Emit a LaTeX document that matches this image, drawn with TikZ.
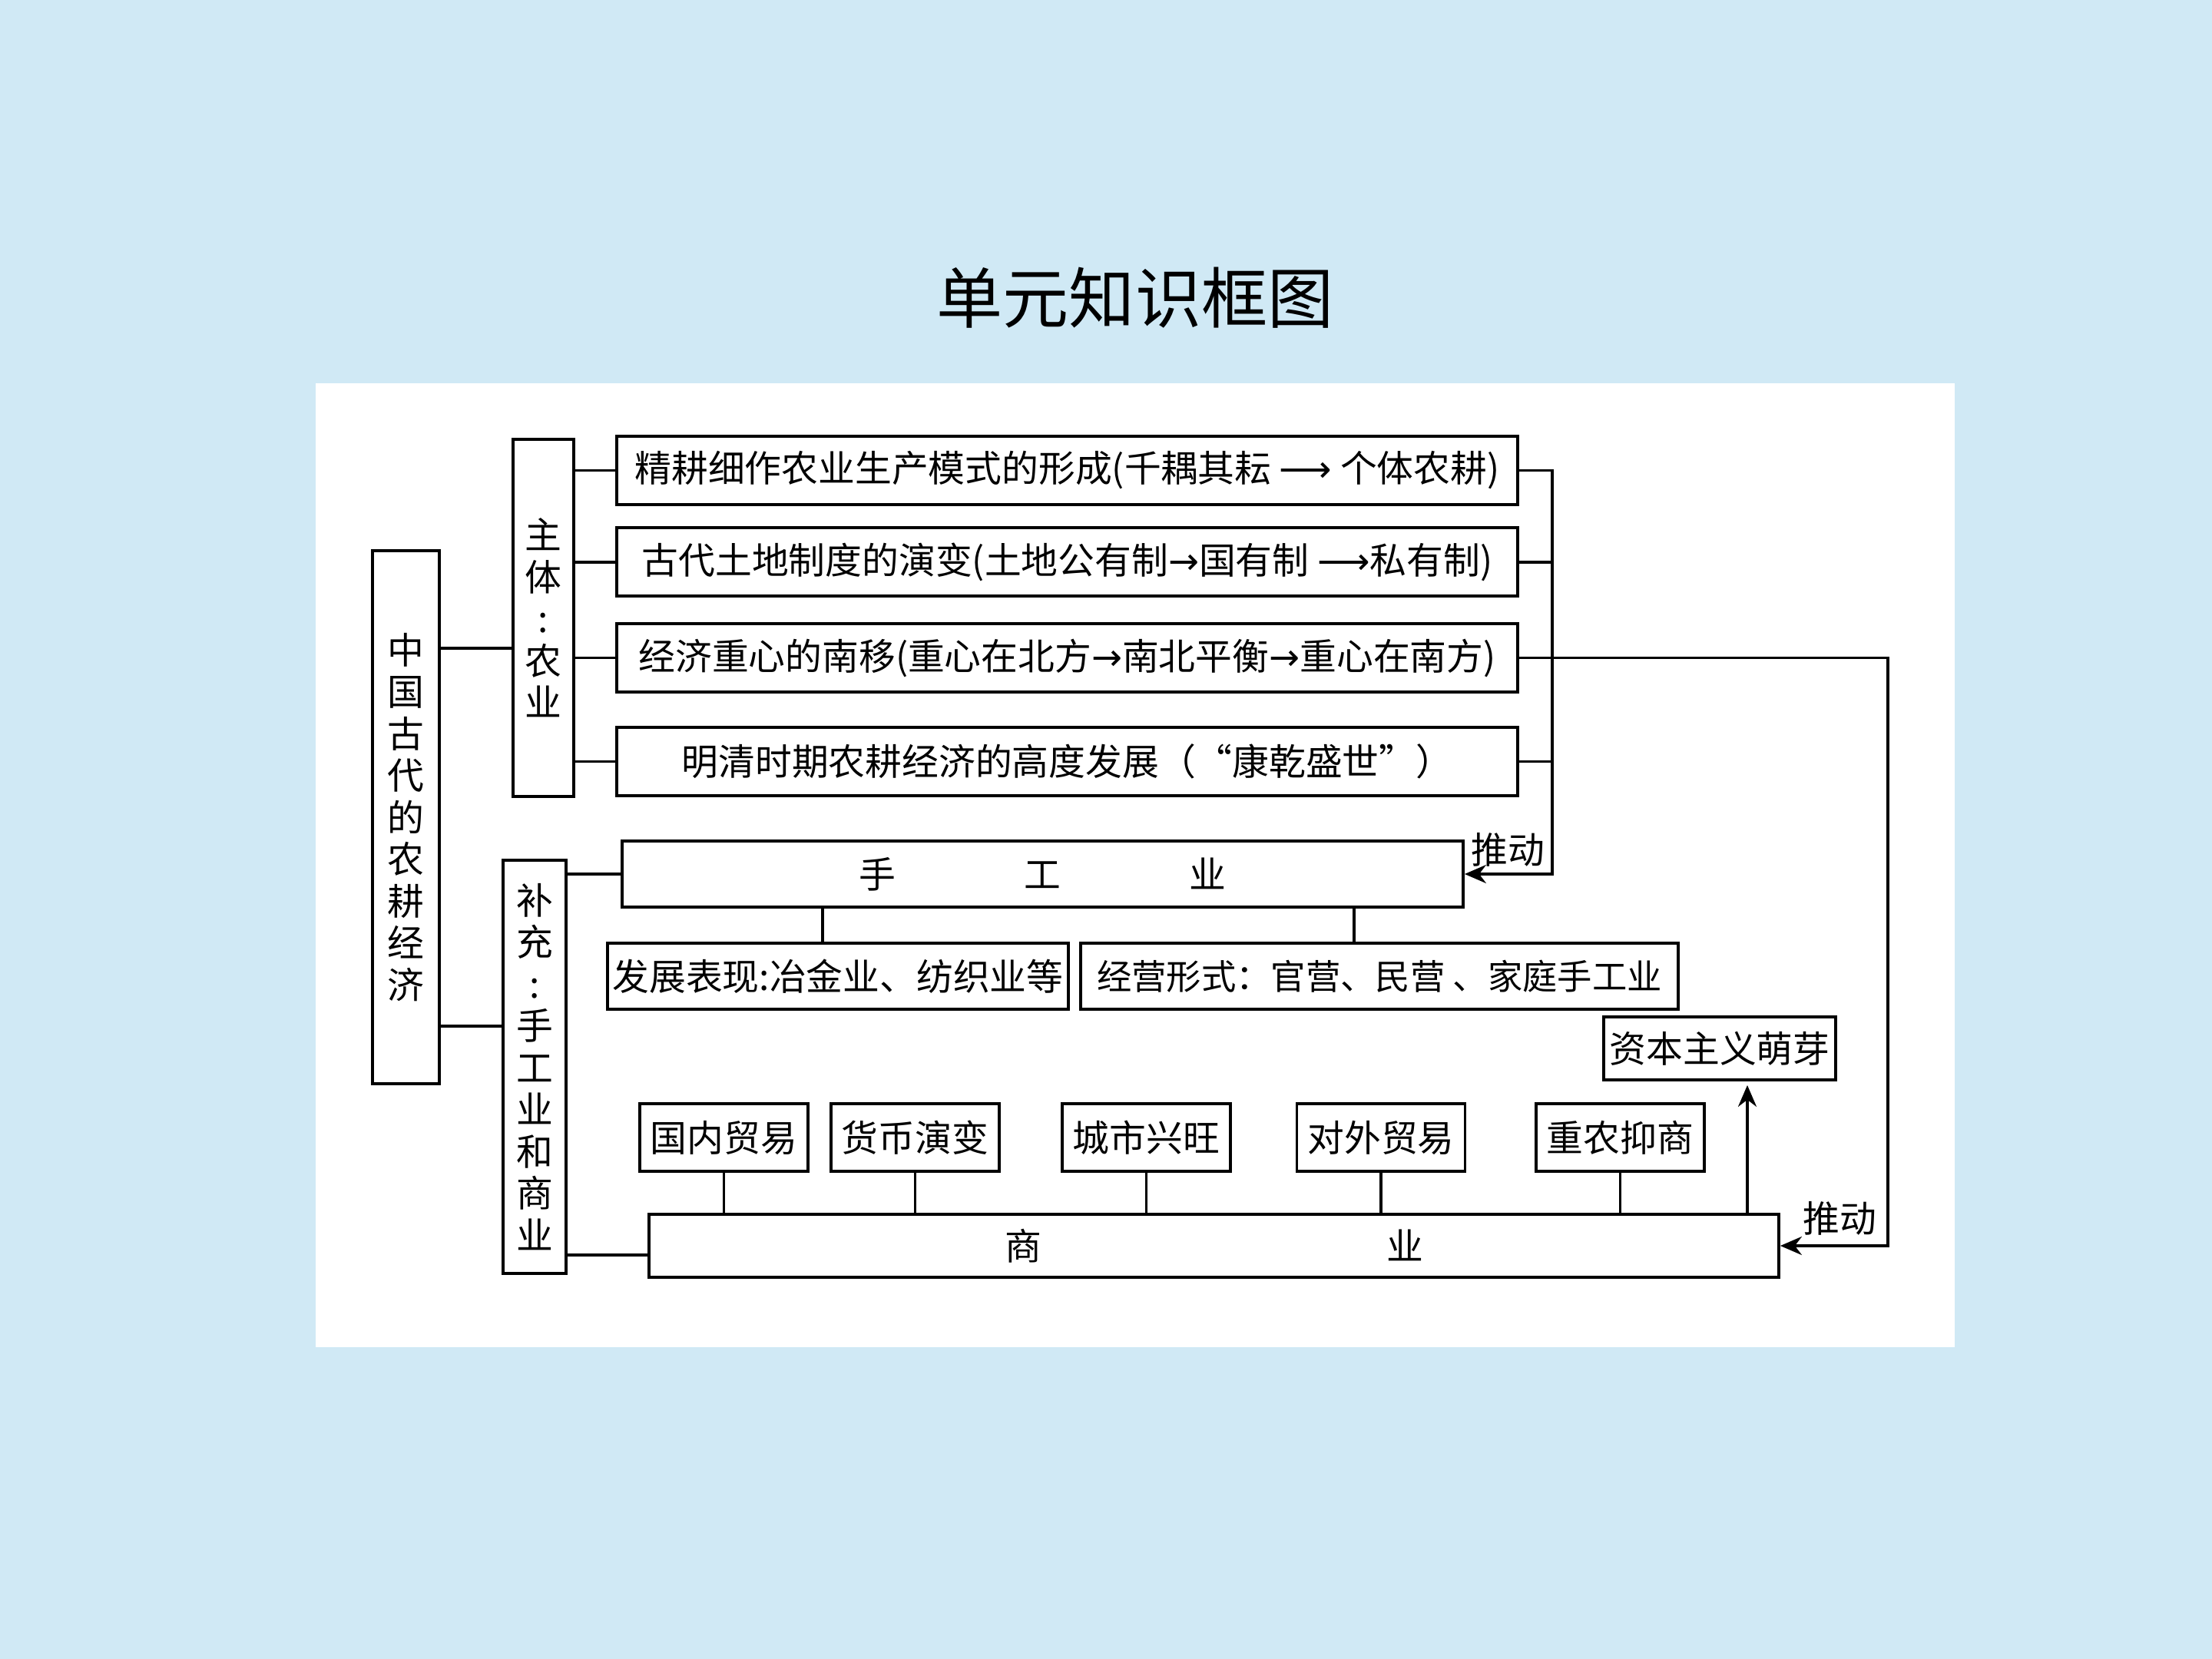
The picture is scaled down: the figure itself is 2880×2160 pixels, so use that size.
\documentclass[tikz,border=0pt]{standalone}
\usepackage{fontspec}
\setmainfont{Noto Sans CJK SC}
\newfontfamily\arrowfont{DejaVu Sans}
\usepackage{tikz}
\usetikzlibrary{arrows.meta, positioning, calc}
\definecolor{slidebg}{RGB}{208,233,245}
\newcommand{\longto}{{\arrowfont ⟶}}
\newcommand{\shortto}{{\arrowfont →}}

\begin{document}
\begin{tikzpicture}[
    x=0.1mm, y=-0.1mm,
    font=\fontsize{13.6pt}{16pt}\selectfont,
    box/.style={rectangle, draw=black, line width=1.1pt, inner sep=0pt, text centered},
    rowbox/.style={box, minimum width=117.3mm, minimum height=8.9mm},
    vbox/.style={box, align=center, font=\fontsize{13.6pt}{5.45mm}\selectfont},
    smallbox/.style={box, minimum width=21.9mm, minimum height=8.8mm},
    link/.style={line width=1pt},
    arrow/.style={line width=1pt, -{Stealth[length=2.8mm, width=2.4mm]}},
]

    % slide background
    \fill [slidebg] (0,0) rectangle (2880,2160);
    \fill [white] (411,499) rectangle (2545,1754);
    \useasboundingbox (0,0) rectangle (2880,2160);

    \node (title) at (1478,388) [font=\fontsize{24.5pt}{28pt}\selectfont] {单元知识框图};

    % left column
    \node (china) at (528.5,1064) [vbox, minimum width=8.7mm, minimum height=69.4mm] {中\\国\\古\\代\\的\\农\\耕\\经\\济};
    \node (agri) at (707.5,804.5) [vbox, minimum width=7.9mm, minimum height=46.5mm] {主\\体\\:\\农\\业};
    \node (supp) at (696,1389) [vbox, minimum width=8.2mm, minimum height=53.8mm] {补\\充\\:\\手\\工\\业\\和\\商\\业};

    % agriculture
    \node (r1) at (1389.5,612.5) [rowbox] {精耕细作农业生产模式的形成(千耦其耘 \longto{} 个体农耕)};
    \node (r2) [rowbox, below=2.65mm of r1] {古代土地制度的演变(土地公有制\shortto{}国有制 \longto{}私有制)};
    \node (r3) [rowbox, below=3.2mm of r2] {经济重心的南移(重心在北方\shortto{}南北平衡\shortto{}重心在南方)};
    \node (r4) [rowbox, below=4.2mm of r3] {明清时期农耕经济的高度发展（“康乾盛世”）};

    % handicraft
    \node (craft) at (1357.5,1138) [box, minimum width=109.5mm, minimum height=8.6mm] {手\hspace{3.5em}工\hspace{3.5em}业};
    \node (dev) at (1091,1271) [box, minimum width=60mm, minimum height=8.6mm] {发展表现:冶金业、纺织业等};
    \node (mgmt) at (1796,1271) [box, minimum width=77.8mm, minimum height=8.6mm, font=\fontsize{12.9pt}{15pt}\selectfont] {经营形式：官营、民营 、家庭手工业};
    \node (capit) at (2239,1365) [box, minimum width=30.2mm, minimum height=8.2mm] {资本主义萌芽};

    % commerce
    \node (dom) at (942.5,1481) [smallbox] {国内贸易};
    \node (money) at (1191.5,1481) [smallbox] {货币演变};
    \node (city) at (1492.5,1481) [smallbox] {城市兴旺};
    \node (forgn) at (1798,1481) [smallbox] {对外贸易};
    \node (policy) at (2109.5,1481) [smallbox] {重农抑商};
    \node (trade) at (1580.5,1622) [box, minimum width=147.1mm, minimum height=8.2mm] {商\hspace{9.4em}业};

    \node (push1) at (1963,1106) {推动};
    \node (push2) at (2395,1586) {推动};
    \coordinate (bus) at (2021,1138);
    \coordinate (loop) at (2458,1622);

    \draw [link] ([yshift=-3.95mm]agri.west) -- ([yshift=-3.95mm]agri.west -| china.east);
    \draw [link] ([yshift=5.3mm]supp.west) -- ([yshift=5.3mm]supp.west -| china.east);
    \foreach \r in {r1,r2,r3,r4}
        \draw [link] (agri.east |- \r.west) -- (\r.west);
    \draw [link] (craft.west) -- (craft.west -| supp.east);
    \draw [link] ([yshift=-1.2mm]trade.west) -- ([yshift=-1.2mm]trade.west -| supp.east);

    \draw [arrow] (r1.east) -| (bus) -- (craft.east);
    \draw [link] (r2.east) -- (r2.east -| bus);
    \draw [link] (r4.east) -- (r4.east -| bus);
    \draw [arrow] (r3.east) -| (loop) -- (trade.east);

    \draw [link] ([xshift=-2mm]dev.north) -- ([xshift=-2mm]dev.north |- craft.south);
    \draw [link] ([xshift=-3.3mm]mgmt.north) -- ([xshift=-3.3mm]mgmt.north |- craft.south);
    \foreach \s in {dom,money,city,forgn,policy}
        \draw [link] (\s.south) -- (\s.south |- trade.north);
    \draw [arrow, shorten >=0.5mm] ([xshift=3.6mm]capit.south |- trade.north) -- ([xshift=3.6mm]capit.south);

\end{tikzpicture}
\end{document}
